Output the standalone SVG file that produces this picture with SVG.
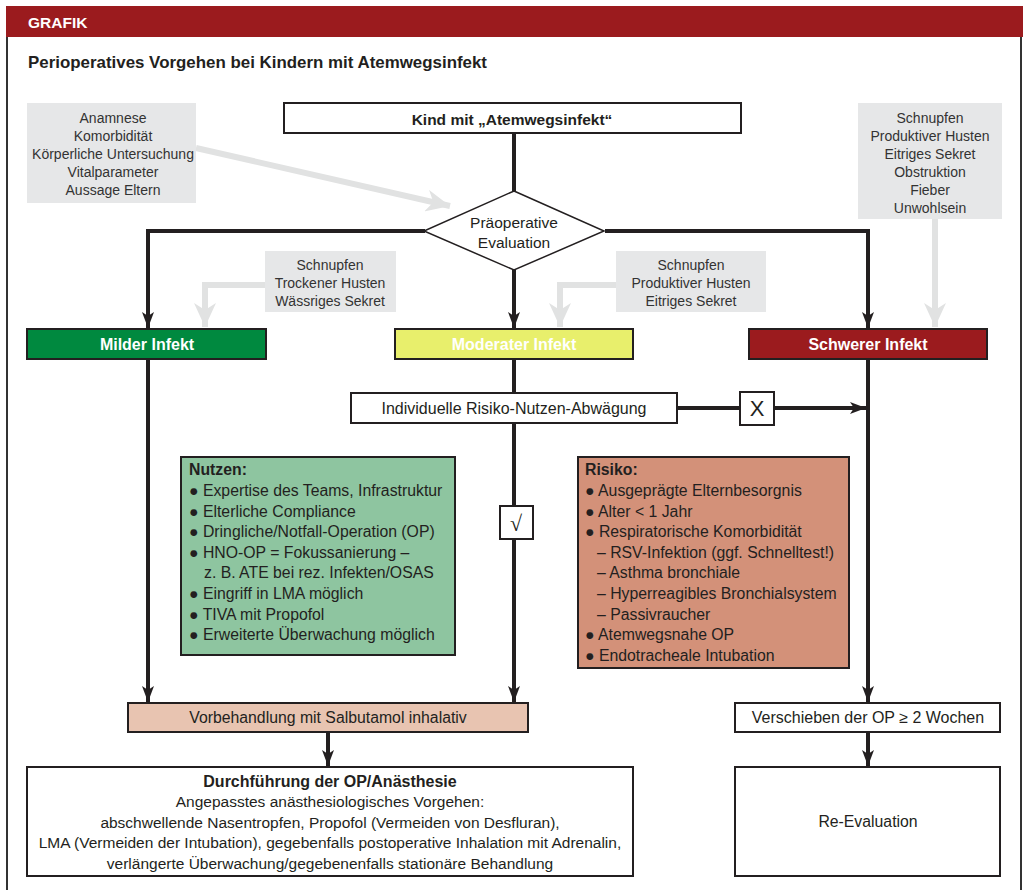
<svg xmlns="http://www.w3.org/2000/svg" width="1023" height="890" viewBox="0 0 1023 890">
<style>
text{font-family:"Liberation Sans",Arial,sans-serif;fill:#231f20}
.b{font-weight:bold}
.box{stroke:#231f20;stroke-width:2}
.gray{fill:#e6e7e8}
.gt{font-size:14px;fill:#333;text-anchor:middle}
.c{text-anchor:middle}
.wt{fill:#fff;font-weight:bold;font-size:16px;text-anchor:middle}
.con{stroke:#231f20;stroke-width:4;fill:none}
.gcon{stroke:#e1e2e2;stroke-width:6;fill:none}
.lt{font-size:15.8px}
</style>
<defs>
<marker id="ah" markerUnits="userSpaceOnUse" markerWidth="18" markerHeight="14" refX="16" refY="7" orient="auto" viewBox="0 0 18 14">
<path d="M16,7 L0,1 L4,7 L0,13 Z" fill="#231f20"/>
</marker>
<marker id="gah" markerUnits="userSpaceOnUse" markerWidth="26" markerHeight="22" refX="24" refY="11" orient="auto" viewBox="0 0 26 22">
<path d="M24,11 L0,0 L7,11 L0,22 Z" fill="#e1e2e2"/>
</marker>
</defs>
<rect width="1023" height="890" fill="#fff"/>
<g id="frame">
<rect x="6" y="6" width="1017" height="31" fill="#9b1b1e"/>
<text x="28" y="28" class="b" style="fill:#fff;font-size:15.5px">GRAFIK</text>
<line x1="7" y1="37" x2="7" y2="890" stroke="#333" stroke-width="2"/>
<line x1="1021" y1="37" x2="1021" y2="890" stroke="#333" stroke-width="2"/>
<text x="28" y="68" class="b" style="font-size:16.5px" textLength="459" lengthAdjust="spacingAndGlyphs">Perioperatives Vorgehen bei Kindern mit Atemwegsinfekt</text>
</g>
<g id="connectors">
<path class="gcon" d="M196,148 L450,206" marker-end="url(#gah)"/>
<path class="gcon" d="M265,285 L205,285 L205,327" marker-end="url(#gah)"/>
<path class="gcon" d="M616,285 L560,285 L560,327" marker-end="url(#gah)"/>
<path class="gcon" d="M935,219 L935,327" marker-end="url(#gah)"/>
<path class="con" d="M514,133 L514,191"/>
<path class="con" d="M425,231 L148,231 L148,328" marker-end="url(#ah)"/>
<path class="con" d="M514,270 L514,328" marker-end="url(#ah)"/>
<path class="con" d="M605,231 L868,231 L868,328" marker-end="url(#ah)"/>
<path class="con" d="M514,359 L514,393"/>
<path class="con" d="M677,408 L740,408"/>
<path class="con" d="M774,408 L866,408" marker-end="url(#ah)"/>
<path class="con" d="M514,423 L514,702" marker-end="url(#ah)"/>
<path class="con" d="M148,359 L148,702" marker-end="url(#ah)"/>
<path class="con" d="M868,359 L868,702" marker-end="url(#ah)"/>
<path class="con" d="M328,732 L328,766" marker-end="url(#ah)"/>
<path class="con" d="M868,732 L868,766" marker-end="url(#ah)"/>
</g>
<g id="n-input">
<rect x="27" y="103" width="169" height="100" class="gray"/>
<text class="gt" x="113" y="123">Anamnese</text>
<text class="gt" x="113" y="141">Komorbidität</text>
<text class="gt" x="113" y="159">Körperliche Untersuchung</text>
<text class="gt" x="113" y="177">Vitalparameter</text>
<text class="gt" x="113" y="195">Aussage Eltern</text>
</g>
<g id="n-kind">
<rect x="284" y="103" width="457" height="30" fill="#fff" class="box"/>
<text x="512" y="125" class="b c" style="font-size:15.5px">Kind mit „Atemwegsinfekt“</text>
</g>
<g id="n-eval">
<path d="M514,191 L604,231 L514,270 L424,231 Z" fill="#fff" stroke="#231f20" stroke-width="1.5"/>
<text x="514" y="228" class="c" style="font-size:15.5px">Präoperative</text>
<text x="514" y="248" class="c" style="font-size:15.5px">Evaluation</text>
</g>
<g id="n-symptoms-severe">
<rect x="858" y="103" width="144" height="116" class="gray"/>
<text class="gt" x="930" y="123">Schnupfen</text>
<text class="gt" x="930" y="141">Produktiver Husten</text>
<text class="gt" x="930" y="159">Eitriges Sekret</text>
<text class="gt" x="930" y="177">Obstruktion</text>
<text class="gt" x="930" y="195">Fieber</text>
<text class="gt" x="930" y="213">Unwohlsein</text>
</g>
<g id="n-symptoms-mild">
<rect x="265" y="251" width="131" height="61" class="gray"/>
<text class="gt" x="330" y="270">Schnupfen</text>
<text class="gt" x="330" y="288">Trockener Husten</text>
<text class="gt" x="330" y="306">Wässriges Sekret</text>
</g>
<g id="n-symptoms-moderate">
<rect x="616" y="251" width="150" height="61" class="gray"/>
<text class="gt" x="691" y="270">Schnupfen</text>
<text class="gt" x="691" y="288">Produktiver Husten</text>
<text class="gt" x="691" y="306">Eitriges Sekret</text>
</g>
<g id="n-mild">
<rect x="27" y="329" width="239" height="30" fill="#00893f" class="box"/>
<text x="147" y="350" class="wt">Milder Infekt</text>
</g>
<g id="n-moderate">
<rect x="395" y="329" width="238" height="30" fill="#e8ef6c" class="box"/>
<text x="514" y="350" class="wt">Moderater Infekt</text>
</g>
<g id="n-severe">
<rect x="749" y="329" width="238" height="30" fill="#9b1b1e" class="box"/>
<text x="868" y="350" class="wt">Schwerer Infekt</text>
</g>
<g id="n-abwaegung">
<rect x="351" y="393" width="326" height="30" fill="#fff" class="box"/>
<text x="514" y="414" class="c" style="font-size:16px">Individuelle Risiko-Nutzen-Abwägung</text>
</g>
<g id="n-x">
<rect x="740" y="392" width="34" height="33" fill="#fff" class="box"/>
<text x="757" y="416" class="c" style="font-size:22px">X</text>
</g>
<g id="n-check">
<rect x="500" y="506" width="33" height="33" fill="#fff" class="box"/>
<text x="516" y="531" class="c" style="font-size:22px;font-family:'Liberation Serif',serif">√</text>
</g>
<g id="n-nutzen">
<rect x="181" y="457" width="274" height="198" fill="#8ec5a0" class="box"/>
<g class="lt">
<text x="189" y="475" class="b">Nutzen:</text>
<text x="189" y="496">● Expertise des Teams, Infrastruktur</text>
<text x="189" y="517">● Elterliche Compliance</text>
<text x="189" y="537">● Dringliche/Notfall-Operation (OP)</text>
<text x="189" y="558">● HNO-OP = Fokussanierung –</text>
<text x="204" y="578">z. B. ATE bei rez. Infekten/OSAS</text>
<text x="189" y="599">● Eingriff in LMA möglich</text>
<text x="189" y="620">● TIVA mit Propofol</text>
<text x="189" y="640">● Erweiterte Überwachung möglich</text>
</g>
</g>
<g id="n-risiko">
<rect x="578" y="457" width="271" height="211" fill="#d39179" class="box"/>
<g class="lt">
<text x="585" y="475" class="b">Risiko:</text>
<text x="585" y="496">● Ausgeprägte Elternbesorgnis</text>
<text x="585" y="517">● Alter &lt; 1 Jahr</text>
<text x="585" y="537">● Respiratorische Komorbidität</text>
<text x="597" y="558">– RSV-Infektion (ggf. Schnelltest!)</text>
<text x="597" y="578">– Asthma bronchiale</text>
<text x="597" y="599">– Hyperreagibles Bronchialsystem</text>
<text x="597" y="620">– Passivraucher</text>
<text x="585" y="640">● Atemwegsnahe OP</text>
<text x="585" y="661">● Endotracheale Intubation</text>
</g>
</g>
<g id="n-vorbehandlung">
<rect x="128" y="703" width="400" height="29" fill="#e8c4b1" class="box"/>
<text x="328" y="723" class="c" style="font-size:15.8px">Vorbehandlung mit Salbutamol inhalativ</text>
</g>
<g id="n-verschieben">
<rect x="735" y="703" width="265" height="29" fill="#fff" class="box"/>
<text x="868" y="723" class="c" style="font-size:16px">Verschieben der OP ≥ 2 Wochen</text>
</g>
<g id="n-durchfuehrung">
<rect x="27" y="767" width="606" height="109" fill="#fff" class="box"/>
<g style="font-size:15.5px">
<text x="330" y="787" class="c b" style="font-size:16px">Durchführung der OP/Anästhesie</text>
<text x="330" y="807" class="c">Angepasstes anästhesiologisches Vorgehen:</text>
<text x="330" y="828" class="c">abschwellende Nasentropfen, Propofol (Vermeiden von Desfluran),</text>
<text x="330" y="848" class="c">LMA (Vermeiden der Intubation), gegebenfalls postoperative Inhalation mit Adrenalin,</text>
<text x="330" y="869" class="c">verlängerte Überwachung/gegebenenfalls stationäre Behandlung</text>
</g>
</g>
<g id="n-reeval">
<rect x="735" y="767" width="265" height="109" fill="#fff" class="box"/>
<text x="868" y="827" class="c" style="font-size:15.8px">Re-Evaluation</text>
</g>
</svg>
